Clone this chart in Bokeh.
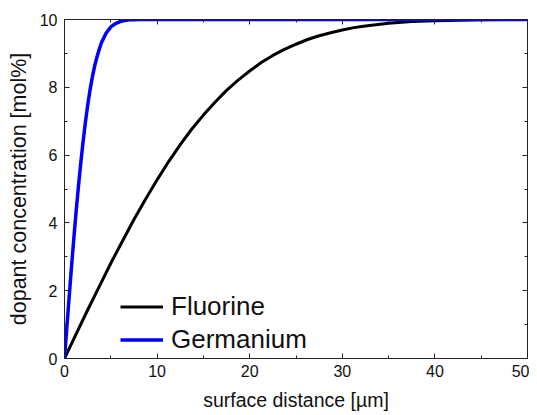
from bokeh.plotting import figure
from bokeh.models import LinearAxis, SingleIntervalTicker, Range1d, Legend, LegendItem
from bokeh.embed import file_html
from bokeh.resources import INLINE

# Fluorine profile
fluorine_x = [0, 1.25, 2.5, 3.75, 5, 6.25, 7.5, 8.75, 10, 11.25, 12.5, 13.75,
              15, 16.25, 17.5, 18.75, 20, 21.25, 22.5, 23.75, 25, 26.25, 27.5,
              28.75, 30, 31.25, 32.5, 35, 37.5, 40, 42.5, 45, 47.5, 50]
fluorine_y = [0, 0.72, 1.43, 2.12, 2.81, 3.46, 4.10, 4.70, 5.27, 5.81, 6.31,
              6.77, 7.18, 7.56, 7.91, 8.21, 8.48, 8.73, 8.94, 9.12, 9.27, 9.41,
              9.52, 9.61, 9.69, 9.76, 9.81, 9.89, 9.94, 9.96, 9.98, 9.99,
              10.0, 10.0]

# Germanium profile
germanium_x = [0, 0.25, 0.5, 0.75, 1, 1.25, 1.5, 1.75, 2, 2.25, 2.5, 2.75, 3,
               3.25, 3.5, 3.75, 4, 4.5, 5, 5.5, 6, 6.5, 7, 7.5, 8, 10, 20, 30,
               40, 50]
germanium_y = [0, 0.91, 1.80, 2.68, 3.52, 4.32, 5.06, 5.75, 6.38, 6.95, 7.46,
               7.91, 8.29, 8.62, 8.89, 9.12, 9.32, 9.60, 9.78, 9.88, 9.94,
               9.97, 9.99, 9.995, 10.0, 10.0, 10.0, 10.0, 10.0, 10.0]

x_label = "surface distance [µm]"
y_label = "dopant concentration [mol%]"
FONT = "Liberation Sans"

p = figure(width=529, height=414, output_backend="svg", toolbar_location=None,
           x_range=Range1d(0, 50), y_range=Range1d(0, 10),
           min_border_left=64, min_border_right=2, min_border_top=19,
           min_border_bottom=56)
p.xgrid.visible = False
p.ygrid.visible = False
p.outline_line_color = "#222222"
p.outline_line_width = 1
p.background_fill_color = "white"
p.border_fill_color = "white"

r_f = p.line(fluorine_x, fluorine_y, line_color="black", line_width=3,
             line_join="round")
r_g = p.line(germanium_x, germanium_y, line_color="#0000ff", line_width=3.5,
             line_join="round")

def style(ax, labels=True):
    ax.major_tick_in = 5
    ax.major_tick_out = 0
    ax.minor_tick_in = 3
    ax.minor_tick_out = 0
    ax.axis_line_color = "#222222"
    ax.major_tick_line_color = "#222222"
    ax.minor_tick_line_color = "#222222"
    ax.major_label_text_font = FONT
    ax.major_label_text_font_size = "16px"
    ax.major_label_text_color = "#111111" if labels else None
    ax.axis_label_text_font = FONT
    ax.axis_label_text_font_style = "normal"
    ax.axis_label_text_color = "#111111"

p.xaxis.ticker = SingleIntervalTicker(interval=10, num_minor_ticks=2)
p.yaxis.ticker = SingleIntervalTicker(interval=2, num_minor_ticks=2)
style(p.xaxis[0])
style(p.yaxis[0])
p.xaxis.axis_label = x_label
p.yaxis.axis_label = y_label
p.xaxis.axis_label_text_font_size = "19.5px"
p.yaxis.axis_label_text_font_size = "21.5px"
p.xaxis.major_label_standoff = 6
p.xaxis.axis_label_standoff = 9
p.yaxis.major_label_standoff = 7
p.yaxis.axis_label_standoff = 6

top = LinearAxis(ticker=SingleIntervalTicker(interval=10, num_minor_ticks=2))
style(top, labels=False)
p.add_layout(top, "above")
right = LinearAxis(ticker=SingleIntervalTicker(interval=2, num_minor_ticks=2))
style(right, labels=False)
p.add_layout(right, "right")
top.major_label_text_font_size = "0px"
right.major_label_text_font_size = "0px"
top.major_label_standoff = 0
right.major_label_standoff = 0

legend = Legend(items=[LegendItem(label="Fluorine", renderers=[r_f]),
                       LegendItem(label="Germanium", renderers=[r_g])],
                location=(56, 2))
legend.padding = 0
legend.margin = 0
legend.spacing = 0
legend.glyph_width = 43
legend.glyph_height = 33
legend.label_height = 33
legend.label_standoff = 8
legend.label_text_font = FONT
legend.label_text_font_size = "26px"
legend.label_text_color = "#111111"
legend.border_line_color = None
legend.background_fill_alpha = 0
p.add_layout(legend, "center")

open("out.html", "w").write(file_html(p, INLINE))
